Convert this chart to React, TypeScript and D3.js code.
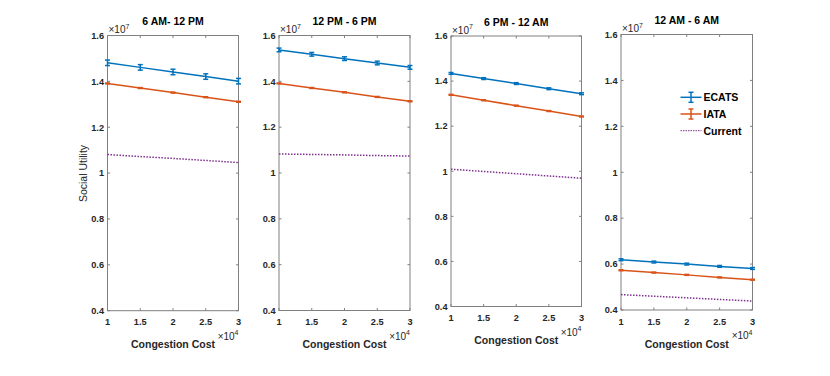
import { useEffect, useRef } from 'react'
import * as d3 from 'd3'

// congestion cost on x (units of 1e4 shown with x10^4 multiplier)
const costs = [1, 1.5, 2, 2.5, 3]
const titles = ['6 AM- 12 PM', '12 PM - 6 PM', '6 PM - 12 AM', '12 AM - 6 AM']
// social utility values, units of 1e7
const ecats = [
  [1.481, 1.461, 1.441, 1.421, 1.401],
  [1.537, 1.518, 1.499, 1.48, 1.461],
  [1.434, 1.411, 1.389, 1.366, 1.344],
  [0.619, 0.609, 0.6, 0.59, 0.581],
]
const ecatsErr = [0.012, 0.008, 0.004, 0.004]
const iata = [
  [1.391, 1.371, 1.351, 1.331, 1.311],
  [1.391, 1.371, 1.352, 1.332, 1.313],
  [1.339, 1.315, 1.291, 1.267, 1.243],
  [0.573, 0.563, 0.553, 0.542, 0.532],
]
const iataErr = [0.002, 0.002, 0.002, 0.002]
const current = [
  [1.081, 1.072, 1.064, 1.055, 1.046],
  [1.083, 1.081, 1.079, 1.076, 1.074],
  [1.009, 0.999, 0.989, 0.979, 0.969],
  [0.467, 0.46, 0.453, 0.446, 0.439],
]
const xTicks = [1, 1.5, 2, 2.5, 3]
const yTicks = [0.4, 0.6, 0.8, 1, 1.2, 1.4, 1.6]

// panel boxes [left, right, top, bottom]
const boxes = [
  [107.5, 238.5, 35.5, 310.7],
  [279, 410, 35.5, 310.5],
  [451, 581.5, 36, 306.5],
  [621, 752.5, 34.5, 310],
]

const BLUE = '#0072BD'
const ORANGE = '#D95319'
const PURPLE = '#7E2F8E'
const TXT = '#262626'
const AX = '#808080'
const FONT = '"Liberation Sans", Arial, Helvetica, sans-serif'

export default function App() {
  const svgRef = useRef<SVGSVGElement>(null)

  useEffect(() => {
    const svg = d3.select(svgRef.current)
    svg.selectAll('*').remove()
    svg.attr('font-family', FONT)

    boxes.forEach((b, p) => {
      const [l, r, t, bt] = b
      const x = d3.scaleLinear().domain([1, 3]).range([l, r])
      const y = d3.scaleLinear().domain([0.4, 1.6]).range([bt, t])
      const g = svg.append('g')

      g.append('rect').attr('x', l).attr('y', t).attr('width', r - l).attr('height', bt - t)
        .attr('fill', '#fff')

      // ticks inward on all four sides
      xTicks.forEach(v => {
        g.append('line').attr('x1', x(v)).attr('x2', x(v)).attr('y1', bt).attr('y2', bt - 2.5).attr('stroke', AX)
        g.append('line').attr('x1', x(v)).attr('x2', x(v)).attr('y1', t).attr('y2', t + 2.5).attr('stroke', AX)
        g.append('text').attr('x', x(v)).attr('y', bt + 14.5).attr('text-anchor', 'middle')
          .attr('font-size', 9.2).attr('font-weight', 'bold').attr('fill', TXT).text(String(v))
      })
      yTicks.forEach(v => {
        g.append('line').attr('x1', l).attr('x2', l + 2.5).attr('y1', y(v)).attr('y2', y(v)).attr('stroke', AX)
        g.append('line').attr('x1', r).attr('x2', r - 2.5).attr('y1', y(v)).attr('y2', y(v)).attr('stroke', AX)
        g.append('text').attr('x', l - 3.5).attr('y', y(v) + 3.3).attr('text-anchor', 'end')
          .attr('font-size', 9.2).attr('font-weight', 'bold').attr('fill', TXT).text(String(v))
      })

      g.append('rect').attr('x', l).attr('y', t).attr('width', r - l).attr('height', bt - t)
        .attr('fill', 'none').attr('stroke', AX).attr('stroke-width', 1)

      // multipliers
      const m7 = g.append('text').attr('x', l + 1).attr('y', t - 2.5).attr('font-size', 10).attr('fill', TXT)
      m7.append('tspan').text('\u00d710')
      m7.append('tspan').attr('dy', -4.5).attr('font-size', 7).text('7')
      const m4 = g.append('text').attr('x', r).attr('y', bt + 29).attr('font-size', 10).attr('fill', TXT)
        .attr('text-anchor', 'end')
      m4.append('tspan').text('\u00d710')
      m4.append('tspan').attr('dy', -4.5).attr('font-size', 7).text('4')

      // title and xlabel
      g.append('text').attr('x', (l + r) / 2).attr('y', t - 10.5).attr('text-anchor', 'middle')
        .attr('font-size', 10.5).attr('font-weight', 'bold').attr('fill', '#000').text(titles[p])
      g.append('text').attr('x', (l + r) / 2).attr('y', bt + 37.5).attr('text-anchor', 'middle')
        .attr('font-size', 10.5).attr('font-weight', 'bold').attr('fill', TXT).text('Congestion Cost')

      const line = d3.line<number>().x((d, i) => x(costs[i])).y(d => y(d))

      // current (dotted)
      g.append('path').attr('d', line(current[p])).attr('fill', 'none').attr('stroke', PURPLE)
        .attr('stroke-width', 1.5).attr('stroke-dasharray', '1.5,1.5')

      const drawSeries = (vals: number[], err: number, color: string) => {
        g.append('path').attr('d', line(vals)).attr('fill', 'none').attr('stroke', color).attr('stroke-width', 1.5)
        vals.forEach((v, i) => {
          const cx = x(costs[i])
          g.append('line').attr('x1', cx).attr('x2', cx).attr('y1', y(v - err)).attr('y2', y(v + err))
            .attr('stroke', color).attr('stroke-width', 1.5)
          ;[v - err, v + err].forEach(e => {
            g.append('line').attr('x1', cx - 2.5).attr('x2', cx + 2.5).attr('y1', y(e)).attr('y2', y(e))
              .attr('stroke', color).attr('stroke-width', 1.5)
          })
        })
      }
      drawSeries(iata[p], iataErr[p], ORANGE)
      drawSeries(ecats[p], ecatsErr[p], BLUE)
    })

    // y label
    svg.append('text').attr('transform', 'translate(87,173.5) rotate(-90)').attr('text-anchor', 'middle')
      .attr('font-size', 10.5).attr('fill', TXT).text('Social Utility')

    // legend in last panel
    const leg = svg.append('g')
    const items = [
      { name: 'ECATS', color: BLUE, kind: 'err' },
      { name: 'IATA', color: ORANGE, kind: 'err' },
      { name: 'Current', color: PURPLE, kind: 'dot' },
    ]
    items.forEach((it, i) => {
      const ly = 97.3 + i * 16.7
      const lg = leg.append('g')
      lg.append('line').attr('x1', 680.5).attr('x2', 701.5).attr('y1', ly).attr('y2', ly)
        .attr('stroke', it.color).attr('stroke-width', it.kind === 'dot' ? 1 : 1.5)
        .attr('stroke-dasharray', it.kind === 'dot' ? '1.5,1' : null)
      if (it.kind === 'err') {
        lg.append('line').attr('x1', 691).attr('x2', 691).attr('y1', ly - 5).attr('y2', ly + 5)
          .attr('stroke', it.color).attr('stroke-width', 1.5)
        ;[ly - 5, ly + 5].forEach(e => {
          lg.append('line').attr('x1', 688.5).attr('x2', 693.5).attr('y1', e).attr('y2', e)
            .attr('stroke', it.color).attr('stroke-width', 1.5)
        })
      }
      lg.append('text').attr('x', 703.5).attr('y', ly + 3.8).attr('font-size', 10.5).attr('font-weight', 'bold')
        .attr('fill', '#000').text(it.name)
    })
  }, [])

  return (
    <svg ref={svgRef} width={830} height={376} style={{ position: 'absolute', left: 0, top: 0 }} />
  )
}
